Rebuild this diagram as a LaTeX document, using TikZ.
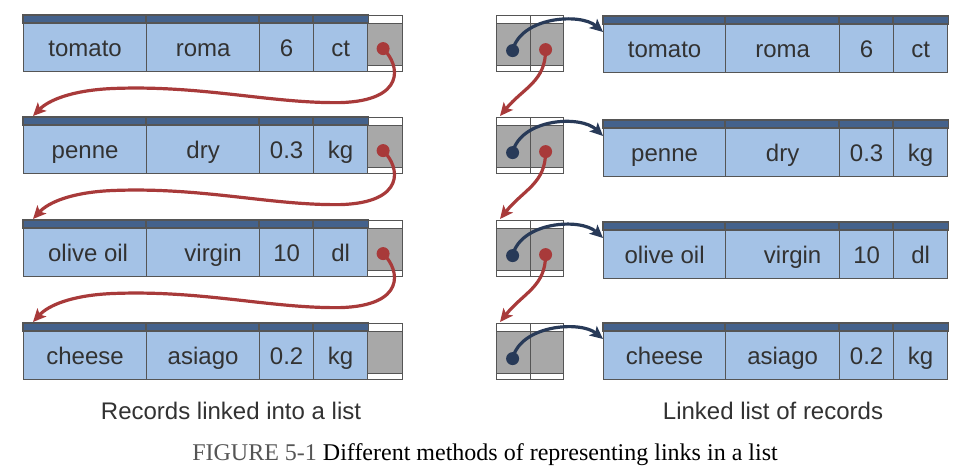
\documentclass[tikz,border=0pt]{standalone}
\usepackage{fontspec}
\setmainfont{Liberation Serif}
\newfontfamily\arialf{Liberation Sans}
\usetikzlibrary{arrows.meta,calc}
\definecolor{bodyblue}{RGB}{164,194,230}
\definecolor{hdrblue}{RGB}{68,98,140}
\definecolor{bordc}{RGB}{85,85,85}
\definecolor{ptrgray}{RGB}{168,168,168}
\definecolor{linkred}{RGB}{168,58,58}
\definecolor{linknavy}{RGB}{40,58,88}
\definecolor{txtc}{RGB}{50,50,50}
\definecolor{figgray}{RGB}{85,85,85}
\tikzset{
  cell/.style={rectangle, draw=bordc, line width=1.2pt, fill=bodyblue, inner sep=0pt,
    minimum height=48pt, anchor=north west, text=txtc, text height=17pt, text depth=0pt,
    font=\arialf\fontsize{24}{28}\selectfont},
  hdrbar/.style={draw=bordc, line width=1.2pt, fill=hdrblue},
  ptrcell/.style={rectangle, draw=bordc, line width=1.2pt, fill=white, inner sep=0pt,
    minimum height=56pt, anchor=north west,
    path picture={\fill[ptrgray] ([yshift=-8pt]path picture bounding box.north west) rectangle ([yshift=6pt]path picture bounding box.south east);
      \draw[bordc, line width=1.2pt] ([yshift=-8pt]path picture bounding box.north west) -- ([yshift=-8pt]path picture bounding box.north east);
      \draw[bordc, line width=1.2pt] ([yshift=6pt]path picture bounding box.south west) -- ([yshift=6pt]path picture bounding box.south east);}},
  redlink/.style={draw=linkred, line width=3.2pt, -{Stealth[length=13pt,width=12pt,inset=3pt]}},
  navylink/.style={draw=linknavy, line width=3.2pt, -{Stealth[length=13pt,width=12pt,inset=3pt]}},
  dotr/.style={circle, fill=linkred, inner sep=0pt, minimum size=13pt},
  dotn/.style={circle, fill=linknavy, inner sep=0pt, minimum size=13pt},
  caption/.style={text=txtc, font=\arialf\fontsize{24}{28}\selectfont, inner sep=0pt}
}
\begin{document}
\begin{tikzpicture}[x=1pt,y=-1pt]
\useasboundingbox[fill=white] (0,0) rectangle (965,468);
% ---------- left: records linked into a list ----------
\foreach \i/\t/\a/\b/\c/\d in {1/15/tomato/roma/6/ct, 2/117/penne/dry/0.3/kg, 3/220/{\hspace*{6pt}olive oil}/{\hspace*{20pt}virgin}/10/dl, 4/323/cheese/asiago/0.2/kg}{
  \node[cell, minimum width=123pt] (L\i a) at (23,\t+8) {\a};
  \node[cell, minimum width=113pt] (L\i b) at (146,\t+8) {\b};
  \node[cell, minimum width=54pt] (L\i c) at (259,\t+8) {\c};
  \node[cell, minimum width=54pt] (L\i d) at (313,\t+8) {\d};
  \node[ptrcell, minimum width=35pt] (L\i p) at (367,\t) {};
  \foreach \k in {a,b,c,d}{
    \draw[hdrbar] (L\i\k.north west) rectangle ([yshift=8pt]L\i\k.north east);
  }
}
\foreach \i/\j in {1/2,2/3,3/4}{
  \coordinate (s) at ($(L\i p.center)+(-2,5)$);
  \coordinate (e) at ($([yshift=8pt]L\j a.north west)+(10,-1)$);
  \draw[redlink] (s) .. controls ($(s)+(17.5,17)$) and ($(s)+(22.5,52)$) ..
    ($(s)+(-42.5,54)$) .. controls ($(s)+(-112.5,55)$) and ($(s)+(-182.5,36)$) ..
    ($(s)+(-272.5,40)$) .. controls ($(s)+(-312.5,42)$) and ($(s)+(-335,52)$) .. (e);
  \node[dotr] (Ld\i) at (s) {};
}
% ---------- right: linked list of records ----------
\foreach \i/\t/\u/\a/\b/\c/\d in {1/15/16/tomato/roma/6/ct, 2/117/120/penne/dry/0.3/kg, 3/220/222/olive oil/{\hspace*{20pt}virgin}/10/dl, 4/323/323/cheese/asiago/0.2/kg}{
  \node[ptrcell, minimum width=34pt] (R\i p) at (496,\t) {};
  \node[ptrcell, minimum width=33pt] (R\i q) at (530,\t) {};
  \node[cell, minimum width=122pt] (R\i a) at (603,\u+8) {\a};
  \node[cell, minimum width=114pt] (R\i b) at (725,\u+8) {\b};
  \node[cell, minimum width=54pt] (R\i c) at (839,\u+8) {\c};
  \node[cell, minimum width=54pt] (R\i d) at (893,\u+8) {\d};
  \foreach \k in {a,b,c,d}{
    \draw[hdrbar] (R\i\k.north west) rectangle ([yshift=8pt]R\i\k.north east);
  }
  \coordinate (n) at ($(R\i p.center)+(-1,7)$);
  \coordinate (m) at ($(R\i a.north west)+(0,8)$);
  \draw[navylink] (n) .. controls ($(n)+(8,-34)$) and ($(n)+(68,-38)$) .. (m);
  \node[dotn] (Rn\i) at (n) {};
}
\foreach \i/\j in {1/2,2/3,3/4}{
  \coordinate (s) at ($(R\i q.center)+(-1.5,6)$);
  \coordinate (e) at ($(R\j p.north west)+(4,-1)$);
  \draw[redlink] (s) .. controls ($(s)+(0,32)$) and ($(s)+(-22,38)$) .. (e);
  \node[dotr] (Rd\i) at (s) {};
}
% ---------- captions ----------
\node[caption] (capL) at (231,411) {Records linked into a list};
\node[caption] (capR) at (773,411) {Linked list of records};
\node[inner sep=0pt, font=\fontsize{24}{28}\selectfont] (fig) at (485,455)
  {\textcolor{figgray}{FIGURE 5-1} Different methods of representing links in a list};
\end{tikzpicture}
\end{document}
